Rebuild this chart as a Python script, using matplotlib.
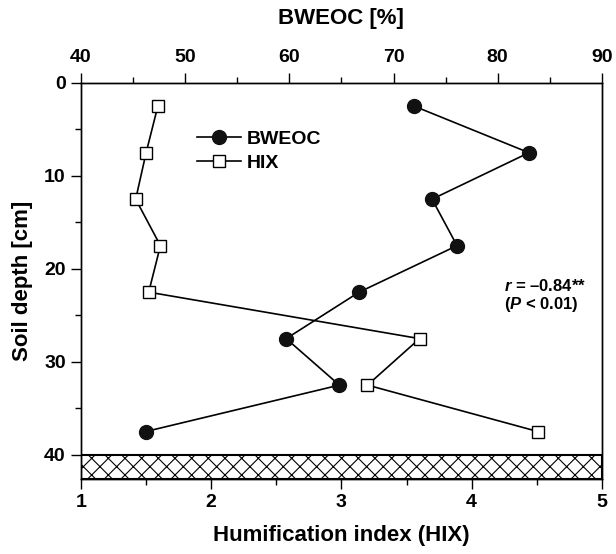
import matplotlib
matplotlib.use("Agg")
import matplotlib.pyplot as plt
from matplotlib.patches import Rectangle

plt.rcParams['font.family'] = ['Liberation Sans', 'DejaVu Sans']
plt.rcParams['font.weight'] = 'bold'
plt.rcParams['mathtext.fontset'] = 'custom'
plt.rcParams['mathtext.it'] = 'Liberation Sans:italic:bold'
plt.rcParams['mathtext.rm'] = 'Liberation Sans:bold'
plt.rcParams['hatch.color'] = '#444444'
plt.rcParams['hatch.linewidth'] = 0.8

# soil depth (cm), midpoints of 5 cm layers
depth = [2.5, 7.5, 12.5, 17.5, 22.5, 27.5, 32.5, 37.5]
# biodegradable water-extractable organic carbon, %
bweoc = [72.0, 83.0, 73.7, 76.1, 66.7, 59.7, 64.8, 46.2]
# humification index
hix = [1.59, 1.50, 1.42, 1.61, 1.52, 3.60, 3.20, 4.51]

fig = plt.figure(figsize=(6.16, 5.54), dpi=100)
ax = fig.add_axes([0.1315, 0.1354, 0.8455, 0.7148])
ax2 = ax.twiny()

# HIX on the bottom axis
l_hix, = ax.plot(hix, depth, color='black', lw=1.2, marker='s', ms=8.5,
                 mfc='white', mec='black', mew=1.0, zorder=3)
# BWEOC on the top axis
l_bw, = ax2.plot(bweoc, depth, color='black', lw=1.2, marker='o', ms=10,
                 mfc='#111111', mec='#111111', zorder=3)

ax.set_xlim(1, 5)
ax.set_ylim(42.6, 0)
ax2.set_xlim(40, 90)

# hatched band below 40 cm
ax.add_patch(Rectangle((1, 40), 4, 2.6, facecolor='white', edgecolor='black',
                       hatch='xx', lw=1.5, zorder=2))

ax.set_xticks([1, 2, 3, 4, 5])
ax.set_xticks([1.5, 2.5, 3.5, 4.5], minor=True)
ax.set_yticks([0, 10, 20, 30, 40])
ax.set_yticks([5, 15, 25, 35], minor=True)
ax2.set_xticks([40, 50, 60, 70, 80, 90])
ax2.set_xticks([45, 55, 65, 75, 85], minor=True)

for a in (ax, ax2):
    a.tick_params(which='major', direction='out', length=7, width=1.0,
                  labelsize=14, pad=4)
    a.tick_params(which='minor', direction='out', length=4, width=1.0)
    for s in a.spines.values():
        s.set_linewidth(1.0)
ax2.tick_params(which='major', pad=5)
for lab in ax.get_xticklabels() + ax.get_yticklabels() + ax2.get_xticklabels():
    lab.set_fontweight('bold')

ax.set_xlabel('Humification index (HIX)', fontsize=16, fontweight='bold',
              labelpad=10)
ax.set_ylabel('Soil depth [cm]', fontsize=16, fontweight='bold', labelpad=8)
ax2.set_xlabel('BWEOC [%]', fontsize=16, fontweight='bold', labelpad=18)

ax.legend([l_bw, l_hix], ['BWEOC', 'HIX'], loc='upper left',
          bbox_to_anchor=(0.222, 0.88), frameon=False, fontsize=14,
          handlelength=2.3, handletextpad=0.3, labelspacing=0.3,
          borderaxespad=0, borderpad=0)

ax.text(4.25, 21.8, '$r$ = \u20130.84**', fontsize=12, fontweight='bold',
        va='center', ha='left')
ax.text(4.25, 23.8, '($P$ < 0.01)', fontsize=12, fontweight='bold',
        va='center', ha='left')

fig.savefig('out.png', dpi=100)
